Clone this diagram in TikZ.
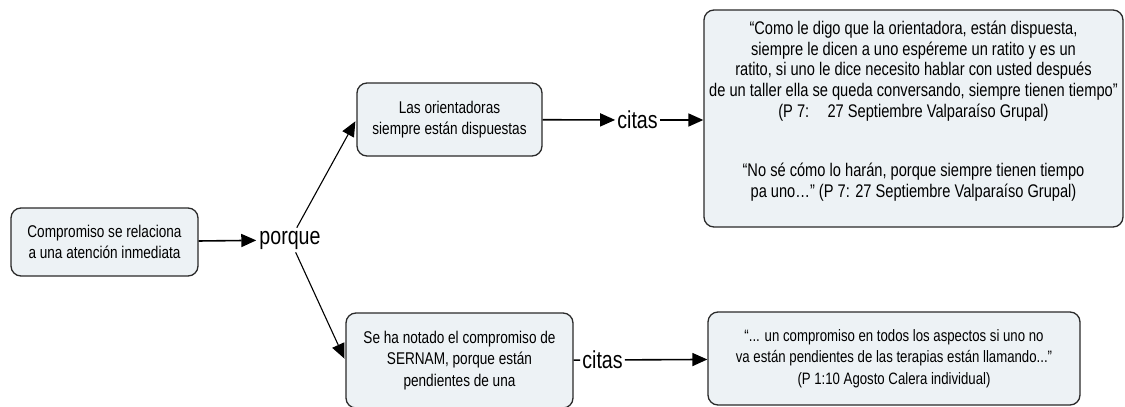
\documentclass[tikz,border=0pt]{standalone}
\usepackage{fontspec}
\setmainfont{Liberation Sans}[FakeStretch=0.8]
\usetikzlibrary{arrows.meta}
\definecolor{boxfill}{HTML}{EDF2F5}
\definecolor{boxline}{HTML}{2A2A2A}
\begin{document}
\begin{tikzpicture}[x=1pt,y=-1pt,
  concept/.style={draw=boxline, line width=1.3pt, fill=boxfill, rounded corners=10pt,
    align=center, font=\fontsize{17}{21.5}\selectfont, inner sep=0pt},
  quotetext/.style={align=center, font=\fontsize{18.3}{20.8}\selectfont, inner sep=0pt},
  linklabel/.style={font=\fontsize{24.5}{28}\selectfont, inner sep=2pt},
  conn/.style={line width=1.6pt, -{Triangle[length=15pt,width=13pt]}},
  thinconn/.style={line width=1.1pt, -{Triangle[length=15pt,width=13pt]}}]
\useasboundingbox (0,0) rectangle (1125,407);

\node[concept, minimum width=187pt, minimum height=68pt] (A) at (104.5,242)
  {Compromiso se relaciona\\a una atención inmediata};
\node[linklabel, inner sep=3pt] (porque) at (290,240) {porque};

\node[concept, minimum width=185pt, minimum height=73pt] (B) at (449.5,119.5)
  {Las orientadoras\\siempre están dispuestas};
\node[linklabel] (cit1) at (637.5,120) {citas};

\node[concept, minimum width=419pt, minimum height=217pt] (C) at (913.5,118.5) {};
\node[quotetext] (Ct1) at (913.5,71)
  {“Como le digo que la orientadora, están dispuesta,\\
   siempre le dicen a uno espéreme un ratito y es un\\
   ratito, si uno le dice necesito hablar con usted después\\
   de un taller ella se queda conversando, siempre tienen tiempo”\\
   (P 7:\quad 27 Septiembre Valparaíso Grupal)};
\node[quotetext] (Ct2) at (913.5,182.5)
  {“No sé cómo lo harán, porque siempre tienen tiempo\\
   pa uno…” (P 7: 27 Septiembre Valparaíso Grupal)};

\node[concept, minimum width=227pt, minimum height=95pt] (D) at (459.5,360.5)
  {Se ha notado el compromiso de\\SERNAM, porque están\\pendientes de una};
\node[linklabel] (cit2) at (602.5,360) {citas};

\node[concept, minimum width=372pt, minimum height=93pt, font=\fontsize{16.5}{21.5}\selectfont] (E) at (894,358.5)
  {“... un compromiso en todos los aspectos si uno no\\
   va están pendientes de las terapias están llamando...”\\
   (P 1:10 Agosto Calera individual)};

\draw[conn] (A) -- (porque);
\draw[thinconn, shorten >=2pt] (porque) -- (B.west);
\draw[thinconn, shorten >=2pt] (porque) -- (D.west);
\draw[conn] (B) -- (cit1);
\draw[conn] (cit1) -- (cit1 -| C.west);
\draw[line width=1.6pt] (D) -- (cit2);
\draw[conn] (cit2) -- (E);
\end{tikzpicture}
\end{document}
